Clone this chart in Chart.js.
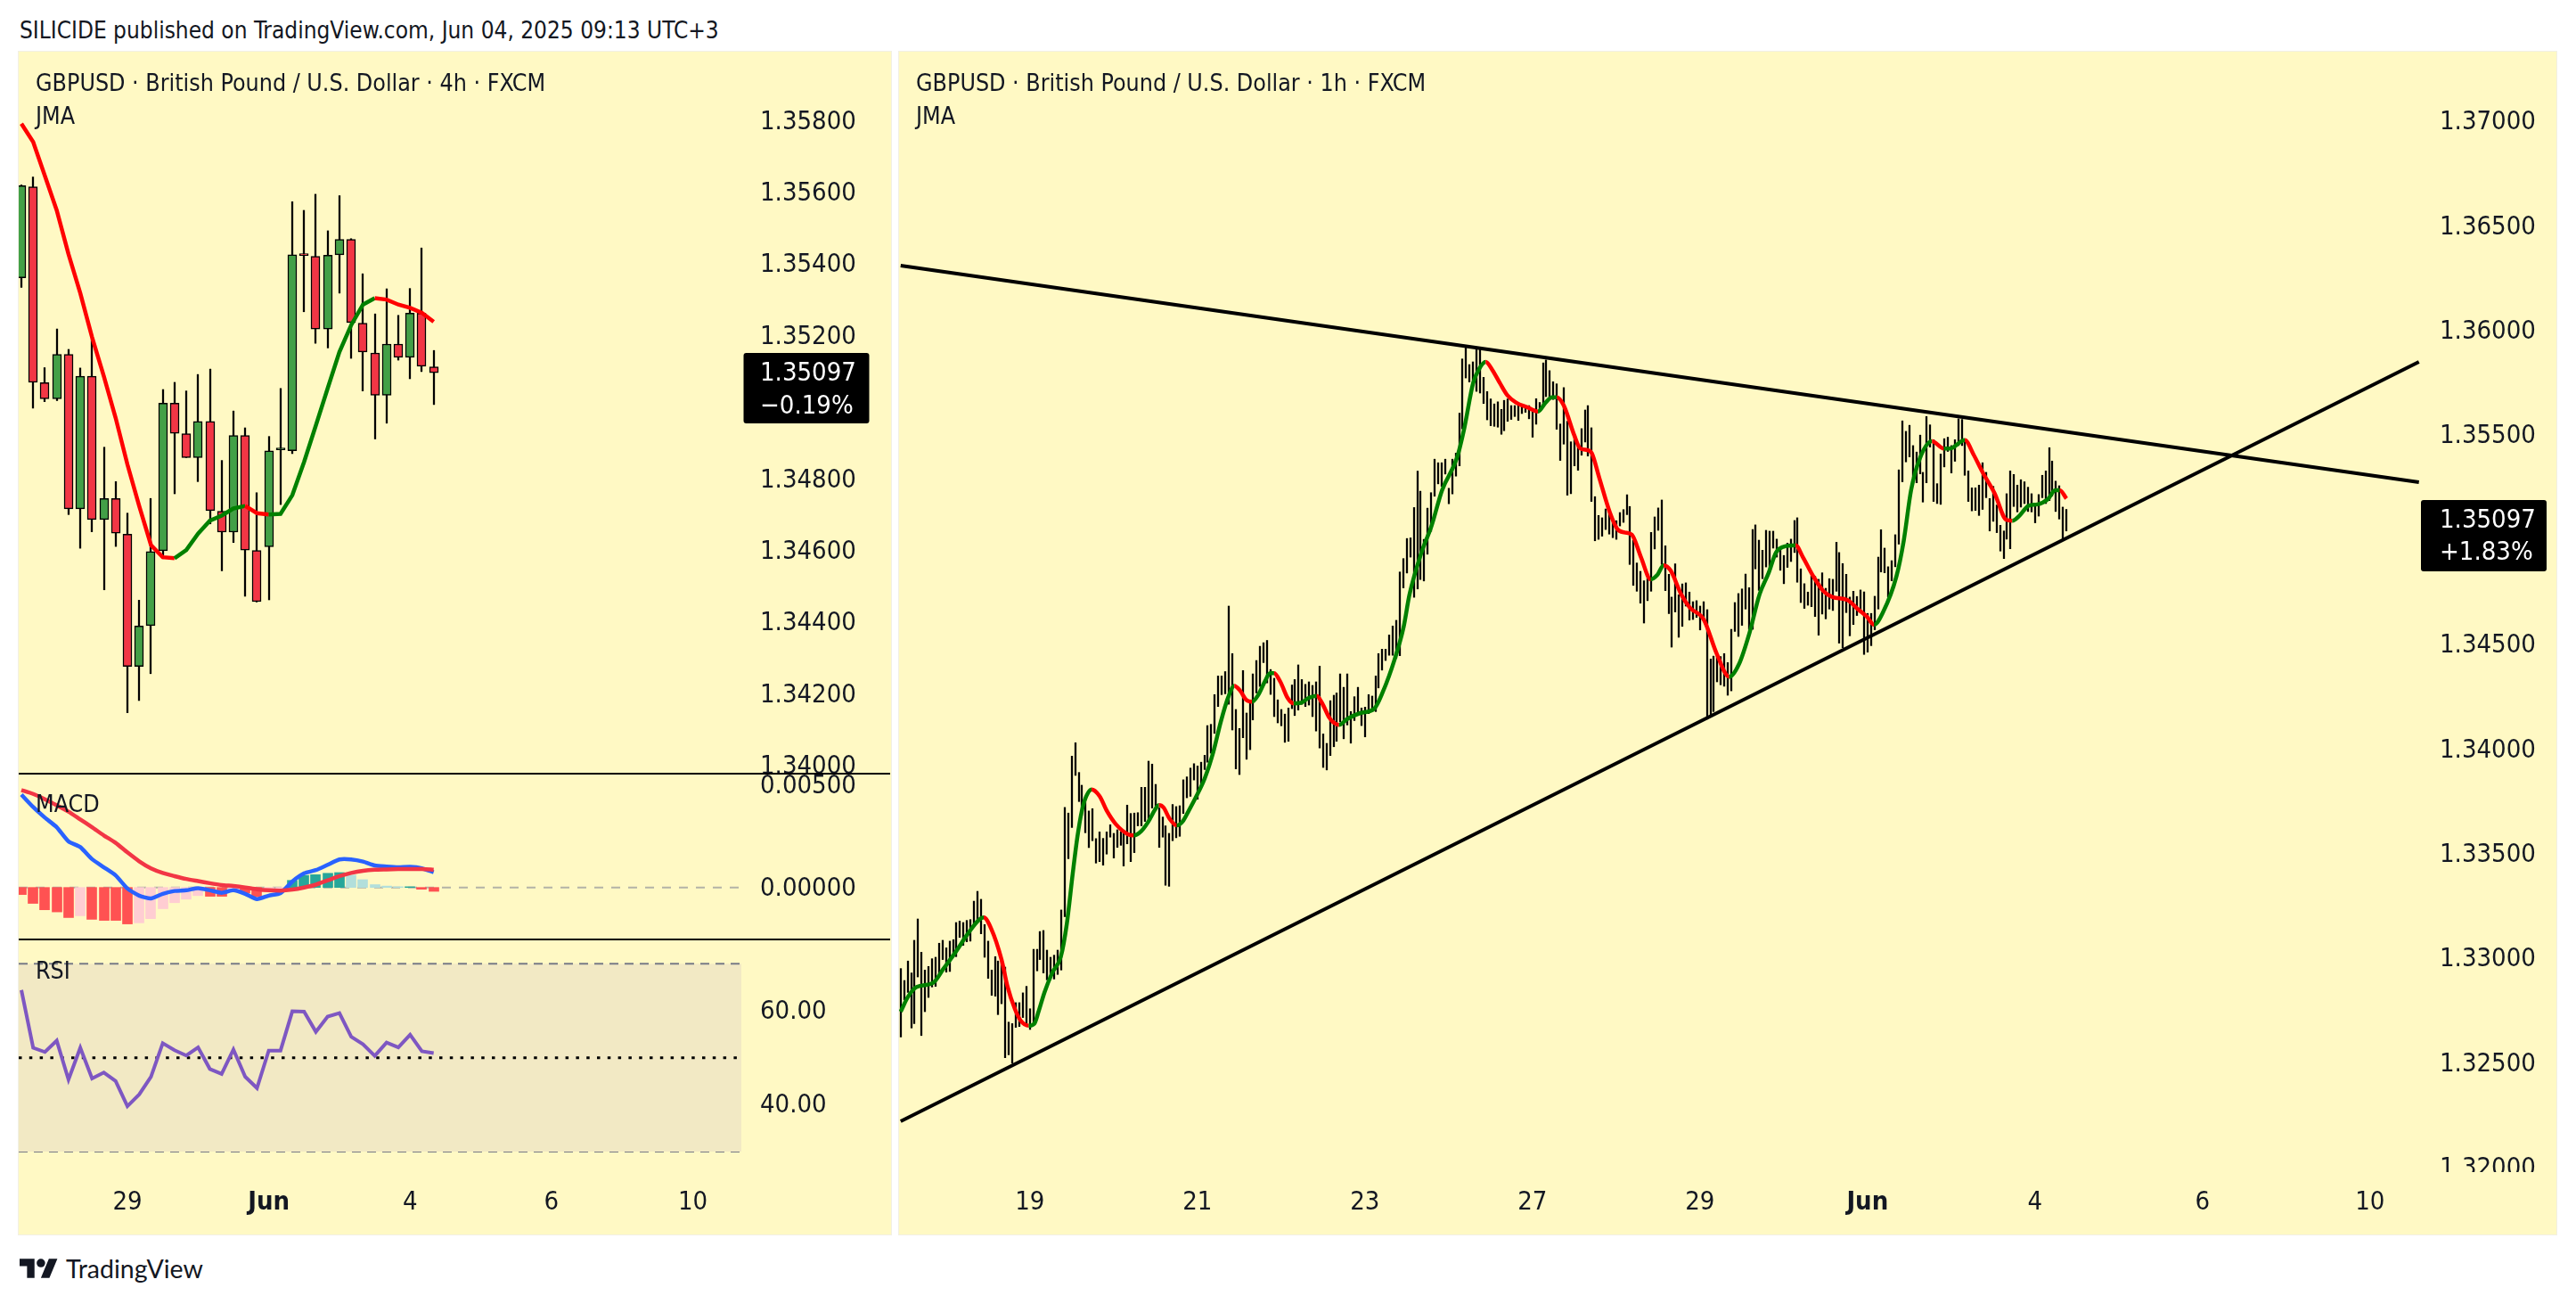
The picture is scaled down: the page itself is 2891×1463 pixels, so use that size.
<!DOCTYPE html>
<html><head><meta charset="utf-8">
<script src="https://cdn.jsdelivr.net/npm/chart.js@4"></script>
<style>
html,body{margin:0;padding:0;background:#fff;width:2891px;height:1463px;overflow:hidden;font-family:"DejaVu Sans Condensed","DejaVu Sans",sans-serif;color:#131722}
.panel{position:absolute;background:#fff9c4;box-shadow:0 0 0 1px #f2f0e4}
canvas{position:absolute}
.t{position:absolute;white-space:nowrap;font-size:26.6px;line-height:30px;color:#131722}
.sep{position:absolute;left:21px;width:978px;height:2px;background:#000}
</style></head><body>
<div class="panel" style="left:21px;top:58px;width:979px;height:1327px"></div>
<div class="panel" style="left:1009px;top:58px;width:1860px;height:1327px"></div>
<canvas id="c1" width="979" height="810" style="left:21px;top:58px"></canvas>
<canvas id="c2" width="979" height="186" style="left:21px;top:868px"></canvas>
<canvas id="c3" width="979" height="331" style="left:21px;top:1054px"></canvas>
<canvas id="c4" width="1860" height="1327" style="left:1009px;top:58px"></canvas>
<div style="position:absolute;left:2720px;top:1315px;width:148px;height:18px;background:#fff9c4"></div>
<div class="sep" style="top:867px"></div>
<div class="sep" style="top:1053px"></div>
<div class="t" style="left:22px;top:19px;font-size:26px">SILICIDE published on TradingView.com, Jun 04, 2025 09:13 UTC+3</div>
<div class="t" style="left:40px;top:78px">GBPUSD · British Pound / U.S. Dollar · 4h · FXCM</div>
<div class="t" style="left:40px;top:115px">JMA</div>
<div class="t" style="left:40px;top:887px">MACD</div>
<div class="t" style="left:40px;top:1074px">RSI</div>
<div class="t" style="left:1028px;top:78px">GBPUSD · British Pound / U.S. Dollar · 1h · FXCM</div>
<div class="t" style="left:1028px;top:115px">JMA</div>
<svg style="position:absolute;left:22px;top:1412px" width="43" height="22" viewBox="0 4 36 18"><path fill="#131722" d="M14 22H7V11H0V4h14v18zM28 22h-8l7.5-18h8L28 22z"/><circle fill="#131722" cx="20" cy="8" r="4"/></svg>
<div class="t" style="left:74px;top:1405px;font-family:Lato,'Noto Sans',sans-serif;font-size:28.5px;line-height:36px">TradingView</div>
<script>
// ---------- 4h pane values ----------
const open4h =[1.35362,1.35616,1.35069,1.35024,1.35148,1.34717,1.35087,1.34687,1.34746,1.34646,1.34277,1.34391,1.34600,1.35012,1.34927,1.34860,1.34961,1.34710,1.34652,1.34922,1.34601,1.34611,1.34882,1.34879,1.35429,1.35422,1.35219,1.35426,1.35469,1.35235,1.35152,1.35034,1.35177,1.35140,1.35263,1.35113];
const close4h=[1.35619,1.35070,1.35024,1.35148,1.34717,1.35087,1.34687,1.34746,1.34649,1.34277,1.34390,1.34598,1.35012,1.34928,1.34860,1.34961,1.34712,1.34652,1.34922,1.34602,1.34458,1.34879,1.34887,1.35426,1.35424,1.35219,1.35425,1.35469,1.35237,1.35155,1.35034,1.35177,1.35140,1.35263,1.35115,1.35097];
const high4h =[1.35621,1.35643,1.35111,1.35219,1.35162,1.35110,1.35192,1.34889,1.34793,1.34705,1.34462,1.34746,1.35050,1.35070,1.35046,1.35092,1.35107,1.34852,1.34990,1.34943,1.34762,1.34919,1.35053,1.35574,1.35550,1.35595,1.35493,1.35591,1.35471,1.35373,1.35261,1.35331,1.35257,1.35332,1.35445,1.35159];
const low4h  =[1.35335,1.34998,1.35016,1.35019,1.34701,1.34607,1.34653,1.34491,1.34612,1.34148,1.34182,1.34257,1.34578,1.34759,1.34860,1.34793,1.34675,1.34544,1.34623,1.34473,1.34457,1.34463,1.34729,1.34871,1.35267,1.35179,1.35166,1.35319,1.35137,1.35046,1.34912,1.34956,1.35132,1.35080,1.35100,1.35008];
const jma4h  =[1.35792,1.35741,1.35646,1.35550,1.35428,1.35319,1.35196,1.35087,1.34971,1.34841,1.34725,1.34616,1.34582,1.34579,1.34602,1.34648,1.34684,1.34698,1.34718,1.34725,1.34705,1.34701,1.34703,1.34755,1.34848,1.34950,1.35053,1.35155,1.35230,1.35287,1.35305,1.35301,1.35287,1.35278,1.35264,1.35239];
const macdLine=[.004534,.003928,.003409,.002942,.002250,.001973,.001384,.000986,.000588,-.000052,-.000398,-.000536,-.000311,-.000173,-.000138,-.000035,-.000138,-.000260,-.000138,-.000311,-.000571,-.000398,-.000277,.000294,.000692,.000848,.001107,.001367,.001367,.001263,.001073,.001021,.000986,.001004,.000934,.000744];
const macdSignal=[.004759,.004568,.004309,.004015,.003703,.003322,.002942,.002544,.002180,.001713,.001280,.000934,.000709,.000554,.000415,.000311,.000208,.000121,.000069,0,-.000087,-.000138,-.000156,-.000104,0,.000138,.000346,.000554,.000709,.000813,.000865,.000882,.000900,.000900,.000900,.000865];
const macdHist=[-.000346,-.000779,-.00109,-.001194,-.001471,-.001384,-.001557,-.001609,-.001609,-.001782,-.00173,-.001523,-.001038,-.000744,-.000571,-.000398,-.000433,-.000433,-.00019,-.000277,-.00045,-.000225,-.000138,.000346,.000588,.000623,.000692,.000727,.000606,.000381,.000138,.000069,.000035,.000035,-.000087,-.00019];
const rsi4h=[64.41,52.11,51.21,53.62,45.32,52.11,45.55,46.83,45.02,39.66,42.15,45.93,53.09,51.58,50.45,52.19,47.59,46.53,51.74,45.93,43.51,51.51,51.51,59.88,59.81,55.51,58.75,59.51,54.45,52.87,50.38,53.24,52.19,54.90,51.36,50.98];
const priceTicks4h=[1.358,1.356,1.354,1.352,1.350,1.348,1.346,1.344,1.342,1.340];
const macdTicks=[0.005,0];
const rsiTicks=[60,40];
const rsiBand=[70,30,50];
const timeTicks4h=[9,21,33,45,57];
const timeLabels4h=['29','Jun','4','6','10'];
const last4h=[1.35097,'1.35097','\u22120.19%'];

// ---------- 1h pane values ----------
const high1h=[1.32952,1.32895,1.32988,1.32931,1.33087,1.33189,1.33030,1.32945,1.32962,1.32999,
1.33006,1.33073,1.33087,1.33051,1.33083,1.33090,1.33172,1.33179,1.33172,1.33182,
1.33186,1.33274,1.33321,1.33283,1.33162,1.33083,1.32945,1.33009,1.32988,1.32992,
1.32959,1.32696,1.32689,1.32789,1.32789,1.32836,1.32867,1.32760,1.33044,1.33044,
1.33129,1.33134,1.33040,1.33006,1.33016,1.33040,1.33232,1.33722,1.33695,1.33967,
1.34031,1.33889,1.33828,1.33747,1.33705,1.33716,1.33573,1.33605,1.33574,1.33605,
1.33639,1.33598,1.33615,1.33605,1.33598,1.33733,1.33693,1.33695,1.33697,1.33818,
1.33818,1.33943,1.33929,1.33832,1.33719,1.33676,1.33634,1.33598,1.33736,1.33726,
1.33730,1.33854,1.33868,1.33910,1.33931,1.33920,1.33938,1.33971,1.34113,1.34119,
1.34261,1.34350,1.34350,1.34371,1.34684,1.34457,1.34190,1.34099,1.34376,1.34173,
1.34227,1.34360,1.34424,1.34492,1.34509,1.34520,1.34381,1.34339,1.34236,1.34190,
1.34168,1.34197,1.34307,1.34333,1.34403,1.34333,1.34310,1.34322,1.34305,1.34322,
1.34397,1.34073,1.34028,1.34232,1.34258,1.34269,1.34360,1.34296,1.34360,1.34180,
1.34251,1.34296,1.34197,1.34201,1.34261,1.34254,1.34350,1.34457,1.34478,1.34478,
1.34546,1.34589,1.34616,1.34847,1.34911,1.35007,1.35010,1.35155,1.35329,1.35233,
1.35003,1.35152,1.35226,1.35386,1.35369,1.35369,1.35386,1.35247,1.35386,1.35415,
1.35606,1.35865,1.35926,1.35838,1.35851,1.35922,1.35916,1.35777,1.35709,1.35674,
1.35650,1.35660,1.35624,1.35667,1.35674,1.35642,1.35642,1.35647,1.35642,1.35645,
1.35642,1.35614,1.35675,1.35657,1.35846,1.35860,1.35809,1.35756,1.35746,1.35554,
1.35728,1.35567,1.35469,1.35496,1.35448,1.35532,1.35621,1.35642,1.35536,1.35207,
1.35117,1.35106,1.35148,1.35145,1.35086,1.35092,1.35131,1.35145,1.35216,1.35160,
1.34999,1.34890,1.34850,1.34805,1.34840,1.35036,1.35110,1.35153,1.35191,1.34972,
1.34836,1.34727,1.34886,1.34738,1.34790,1.34795,1.34751,1.34705,1.34710,1.34684,
1.34705,1.34667,1.34431,1.34445,1.34457,1.34443,1.34457,1.34414,1.34573,1.34701,
1.34744,1.34766,1.34837,1.34772,1.35050,1.35072,1.34999,1.34951,1.35046,1.35042,
1.35042,1.35004,1.34961,1.34926,1.34985,1.35004,1.35093,1.35106,1.34862,1.34791,
1.34751,1.34829,1.34826,1.34812,1.34843,1.34769,1.34815,1.34812,1.34989,1.34940,
1.34887,1.34836,1.34727,1.34755,1.34730,1.34761,1.34752,1.34649,1.34649,1.34731,
1.34918,1.35049,1.34961,1.34872,1.34901,1.35025,1.35335,1.35569,1.35519,1.35548,
1.35451,1.35420,1.35501,1.35323,1.35590,1.35550,1.35479,1.35269,1.35411,1.35484,
1.35491,1.35451,1.35479,1.35579,1.35576,1.35479,1.35330,1.35249,1.35249,1.35262,
1.35369,1.35323,1.35198,1.35256,1.35167,1.35070,1.35043,1.35221,1.35330,1.35313,
1.35262,1.35288,1.35278,1.35252,1.35221,1.35174,1.35217,1.35309,1.35330,1.35441,
1.35377,1.35281,1.35259,1.35157,1.35146];
const low1h=[1.32625,1.32803,1.32838,1.32668,1.32689,1.32912,1.32632,1.32746,1.32814,1.32864,
1.32867,1.32916,1.32995,1.32935,1.32938,1.33016,1.33009,1.33101,1.33063,1.33080,
1.33083,1.33168,1.33186,1.33118,1.33006,1.32905,1.32824,1.32820,1.32732,1.32784,
1.32526,1.32540,1.32500,1.32671,1.32675,1.32718,1.32689,1.32661,1.32689,1.32941,
1.32995,1.32931,1.32898,1.32909,1.32902,1.32924,1.32945,1.33200,1.33477,1.33626,
1.33875,1.33750,1.33683,1.33601,1.33530,1.33563,1.33456,1.33463,1.33446,1.33499,
1.33580,1.33480,1.33531,1.33541,1.33442,1.33548,1.33463,1.33506,1.33634,1.33634,
1.33655,1.33662,1.33719,1.33719,1.33531,1.33580,1.33350,1.33345,1.33563,1.33577,
1.33584,1.33693,1.33768,1.33775,1.33853,1.33761,1.33818,1.33903,1.33938,1.33981,
1.34076,1.34204,1.34261,1.34265,1.34215,1.34092,1.33906,1.33879,1.34055,1.33952,
1.33998,1.34140,1.34269,1.34300,1.34414,1.34317,1.34262,1.34156,1.34126,1.34112,
1.34033,1.34038,1.34194,1.34161,1.34187,1.34215,1.34204,1.34211,1.34156,1.34087,
1.34006,1.33913,1.33901,1.33970,1.34012,1.34038,1.34130,1.34050,1.34116,1.34029,
1.34137,1.34165,1.34113,1.34059,1.34170,1.34180,1.34180,1.34293,1.34378,1.34424,
1.34449,1.34449,1.34435,1.34447,1.34771,1.34842,1.34918,1.34726,1.34766,1.34811,
1.34804,1.34932,1.35041,1.35209,1.35268,1.35256,1.35315,1.35173,1.35220,1.35305,
1.35354,1.35531,1.35774,1.35755,1.35741,1.35710,1.35702,1.35652,1.35574,1.35546,
1.35543,1.35539,1.35505,1.35522,1.35567,1.35576,1.35590,1.35571,1.35604,1.35610,
1.35579,1.35491,1.35553,1.35614,1.35642,1.35685,1.35671,1.35671,1.35529,1.35380,
1.35458,1.35214,1.35221,1.35354,1.35333,1.35405,1.35468,1.35401,1.35184,1.34996,
1.35003,1.35018,1.35050,1.35028,1.35011,1.35003,1.35067,1.35084,1.35121,1.34883,
1.34783,1.34755,1.34698,1.34603,1.34710,1.34755,1.34957,1.35046,1.34883,1.34758,
1.34648,1.34488,1.34656,1.34535,1.34587,1.34684,1.34617,1.34620,1.34630,1.34570,
1.34613,1.34144,1.34159,1.34180,1.34322,1.34308,1.34301,1.34258,1.34279,1.34563,
1.34539,1.34592,1.34670,1.34573,1.34573,1.34862,1.34759,1.34815,1.34871,1.34862,
1.34961,1.34918,1.34855,1.34791,1.34869,1.34897,1.34940,1.34798,1.34701,1.34673,
1.34688,1.34681,1.34634,1.34545,1.34646,1.34623,1.34670,1.34663,1.34755,1.34507,
1.34485,1.34653,1.34542,1.34596,1.34639,1.34653,1.34453,1.34464,1.34495,1.34571,
1.34670,1.34847,1.34843,1.34727,1.34805,1.34872,1.34980,1.35278,1.35373,1.35397,
1.35298,1.35273,1.35316,1.35181,1.35273,1.35444,1.35184,1.35174,1.35170,1.35349,
1.35423,1.35320,1.35376,1.35451,1.35451,1.35309,1.35184,1.35139,1.35141,1.35117,
1.35146,1.35202,1.35043,1.35089,1.35035,1.34947,1.34911,1.35004,1.34958,1.35160,
1.35134,1.35157,1.35174,1.35136,1.35134,1.35082,1.35114,1.35202,1.35174,1.35188,
1.35210,1.35136,1.35100,1.35008,1.35043];
const jmaBar1h=[0,2.1,4.6,9.3,12.3,15.7,19.1,22.5,23.8,25.9,28.9,30.6,32.7,34.4,36.7,38.3,39.5,41.2,43.4,45.9,47.6,49.3,50.6,51.9,53.2,54.7,57,59.1,61.7,65.1,66.8,68.9,71,72.9,74,75.3,77,79.1,80.8,82.5,84.5,87.1,89.6,91.7,93.9,95.6,97.3,99,100.7,102.4,104.5,105.8,107,108.8,110.9,112.6,114.7,116.8,119.2,120.7,122.8,124.1,125.6,127.9,131.7,135.7,138.1,141.5,144.1,145.8,149.2,152.1,155.1,159.4,161.5,164,165.8,167.6,169.5,171.7,173.8,176.3,179.7,182.6,184.8,186.6,188,190,193,194.6,196.8,198,200.2,203.2,205.3,207.4,209.5,212.1,214.9,216.8,218.6,220.6,223.6,226.1,230.1,233.8,237.4,240.2,243.2,246.1,248.7,250.8,253,256.4,258.5,261.5,264.4,267,271.3,274.2,276.8,278.9,281.5,285.3,287.4,289.5,292.1,295.5,298.9,300.6,304.9,307.4,310,313.4,316.8,318.5,320.6,323.2,325.7,328.7,330.8,332.1,334];
const jmaVal1h=[1.32746,1.32817,1.32864,1.32884,1.32952,1.33030,1.33115,1.33186,1.33196,1.33144,1.32995,1.32867,1.32760,1.32703,1.32679,1.32689,1.32746,1.32838,1.32931,1.33009,1.33165,1.33406,1.33577,1.33705,1.33776,1.33808,1.33776,1.33705,1.33641,1.33594,1.33588,1.33608,1.33655,1.33712,1.33733,1.33722,1.33669,1.33636,1.33655,1.33705,1.33768,1.33860,1.33988,1.34130,1.34251,1.34303,1.34279,1.34236,1.34227,1.34258,1.34329,1.34364,1.34364,1.34322,1.34244,1.34219,1.34222,1.34244,1.34255,1.34222,1.34151,1.34127,1.34116,1.34144,1.34173,1.34194,1.34272,1.34428,1.34584,1.34740,1.34939,1.35067,1.35237,1.35393,1.35535,1.35748,1.35819,1.35851,1.35813,1.35749,1.35692,1.35657,1.35633,1.35614,1.35657,1.35682,1.35682,1.35642,1.35500,1.35439,1.35429,1.35415,1.35295,1.35131,1.35053,1.35036,1.35025,1.34918,1.34812,1.34833,1.34879,1.34854,1.34741,1.34677,1.34620,1.34457,1.34346,1.34407,1.34556,1.34741,1.34843,1.34940,1.34968,1.34975,1.34918,1.34826,1.34755,1.34727,1.34713,1.34670,1.34634,1.34595,1.34656,1.34826,1.34997,1.35238,1.35394,1.35472,1.35437,1.35437,1.35477,1.35408,1.35323,1.35224,1.35096,1.35092,1.35117,1.35164,1.35170,1.35195,1.35238,1.35238,1.35198];
const trendBars=[0,435];
const trendUpper=[1.36311,1.35276];
const trendLower=[1.32222,1.35851];
const priceTicks1h=[1.37,1.365,1.36,1.355,1.35,1.345,1.34,1.335,1.33,1.325,1.32];
const timeTicks1h=[37,85,133,181,229,277,325,373,421];
const timeLabels1h=['19','21','23','27','29','Jun','4','6','10'];
const last1h=[1.35097,'1.35097','+1.83%'];

// ---------- drawing ----------
const FONT='"DejaVu Sans Condensed","DejaVu Sans",sans-serif', INK='#131722';
const RED='#f23645', GRN='#43a047';
const zip=(xs,ys)=>xs.map((x,i)=>({x,y:ys[i]}));
const idx=open4h.map((_,i)=>i);
const xMin4=-0.227,xMax4=61.12,xMin1=-0.46,xMax1=435.33;
const turnColor=ctx=>ctx.p1.parsed.y>=ctx.p0.parsed.y?'#008000':'#ff0000';

function badge(spec,rel){return {id:'badge',afterDraw(c){
  const g=c.ctx,y=c.scales.y.getPixelForValue(spec[0]);
  g.save();g.fillStyle='#000';g.beginPath();g.roundRect(rel.l,y+rel.t,rel.w,rel.h,3);g.fill();
  g.fillStyle='#fff';g.font='29px '+FONT;g.textBaseline='middle';g.textAlign='left';
  g.fillText(spec[1],rel.tx,y+1.5);g.fillText(spec[2],rel.tx,y+1.5+rel.dy);g.restore();}};}
// bars sit on whole pixels, as the reference's do
const snapBars={id:'snapBars',beforeDatasetsUpdate(c){const s=c.scales.xb;
  if(s&&!s.__snap){const f=s.getPixelForValue.bind(s);s.getPixelForValue=(v,i)=>Math.round(f(v,i));s.__snap=true;}}};

function yAxis(min,max,ticks,width,fmt,pad){return {
  type:'linear',position:'right',min,max,
  grid:{display:false},border:{display:false},
  afterBuildTicks:s=>{s.ticks=ticks.map(value=>({value}));},
  afterFit:s=>{s.width=width;s.paddingTop=0;s.paddingBottom=0;},
  ticks:{autoSkip:false,padding:pad,labelOffset:1.5,color:INK,font:{family:FONT,size:29},callback:v=>v.toFixed(fmt)}};}
function xAxis(min,max,ticks,labels,height,pad){
  if(!ticks) return {type:'linear',display:false,min,max,offset:false,grid:{display:false}};
  return {type:'linear',position:'bottom',min,max,offset:false,grid:{display:false},border:{display:false},
  afterBuildTicks:s=>{s.ticks=ticks.map(value=>({value}));},
  afterFit:s=>{s.height=height;s.paddingLeft=0;s.paddingRight=0;},
  ticks:{autoSkip:false,maxRotation:0,padding:pad,color:INK,
    font:c=>({family:FONT,size:29,weight:labels[ticks.indexOf(c.tick&&c.tick.value)]==='Jun'?'bold':'normal'}),
    callback:v=>labels[ticks.indexOf(v)]}};}
const base={responsive:false,animation:false,events:[],layout:{padding:0},plugins:{legend:{display:false},tooltip:{enabled:false},title:{display:false}}};
const barOpt=t=>({grouped:false,barPercentage:1,categoryPercentage:1,maxBarThickness:t,xAxisID:'xb'});

new Chart(document.getElementById('c1'),{type:'bar',data:{datasets:[
 {type:'line',data:zip(idx,jma4h),borderWidth:4.5,pointRadius:0,tension:0,segment:{borderColor:turnColor},order:1},
 {...barOpt(10),data:idx.map(i=>({x:i,y:[open4h[i],close4h[i]]})),
  backgroundColor:idx.map(i=>close4h[i]>=open4h[i]?GRN:RED),borderColor:'#000',borderWidth:1.5,borderSkipped:false,order:2},
 {...barOpt(1.6),data:idx.map(i=>({x:i,y:[low4h[i],high4h[i]]})),backgroundColor:'#000',order:3}
]},plugins:[snapBars,badge(last4h,{l:813.5,t:-22,w:141,h:79,tx:832,dy:37})],options:{...base,scales:{
 x:xAxis(xMin4,xMax4),xb:xAxis(xMin4,xMax4),
 y:yAxis(1.339779,1.359928,priceTicks4h,168,5,13)}}});

const histColor=macdHist.map((v,i)=>{const up=i>0&&v>macdHist[i-1],same=i>0&&v===macdHist[i-1];
  return v>=0?((up||same)?'#26a69a':'#b2dfdb'):(up?'#ffcdd2':'#ff5252');});
new Chart(document.getElementById('c2'),{type:'bar',data:{datasets:[
 {type:'line',data:zip(idx,macdSignal),borderColor:'#f23645',borderWidth:4.5,pointRadius:0,tension:0.2,order:1},
 {type:'line',data:zip(idx,macdLine),borderColor:'#2962ff',borderWidth:4.5,pointRadius:0,tension:0.2,order:2},
 {...barOpt(11),data:zip(idx,macdHist),backgroundColor:histColor,order:3},
 {type:'line',data:zip([xMin4,xMax4],[0,0]),borderColor:'#b3b3a6',borderWidth:2,borderDash:[10,9],pointRadius:0,order:4}
]},plugins:[snapBars],options:{...base,scales:{x:xAxis(xMin4,xMax4),xb:xAxis(xMin4,xMax4),y:yAxis(-0.00254,0.00556,macdTicks,168,5,13)}}});

new Chart(document.getElementById('c3'),{type:'bar',data:{datasets:[
 {type:'line',data:zip(idx,rsi4h),borderColor:'#7e57c2',borderWidth:4,pointRadius:0,tension:0,order:1},
 {type:'line',data:zip([xMin4,xMax4],[rsiBand[2],rsiBand[2]]),borderColor:'#000',borderWidth:3,borderDash:[3.5,8.3],pointRadius:0,order:2},
 {type:'line',data:zip([xMin4,xMax4],[rsiBand[0],rsiBand[0]]),borderColor:'#787b86',borderWidth:2,borderDash:[10,7],pointRadius:0,order:3,fill:'+1',backgroundColor:'#f2e9c4'},
 {type:'line',data:zip([xMin4,xMax4],[rsiBand[1],rsiBand[1]]),borderColor:'#787b86',borderWidth:2,borderDash:[10,7],pointRadius:0,order:4}
]},options:{...base,scales:{
 x:xAxis(xMin4,xMax4,timeTicks4h,timeLabels4h,65,4),
 y:yAxis(24.67,75.19,rsiTicks,168,2,13)}}});

const idx1=high1h.map((_,i)=>i);
new Chart(document.getElementById('c4'),{type:'bar',data:{datasets:[
 {type:'line',data:zip(trendBars,trendUpper),borderColor:'#000',borderWidth:4,pointRadius:0,order:0},
 {type:'line',data:zip(trendBars,trendLower),borderColor:'#000',borderWidth:4,pointRadius:0,order:0},
 {type:'line',data:zip(jmaBar1h,jmaVal1h),borderWidth:4.5,pointRadius:0,cubicInterpolationMode:'monotone',segment:{borderColor:turnColor},order:1},
 {...barOpt(1.6),data:idx1.map(i=>({x:i,y:[low1h[i],high1h[i]]})),backgroundColor:'#000',order:3}
]},plugins:[snapBars,badge(last1h,{l:1708,t:-22,w:141,h:80,tx:1729,dy:36})],options:{...base,scales:{
 x:xAxis(xMin1,xMax1,timeTicks1h,timeLabels1h,65,4),xb:xAxis(xMin1,xMax1),
 y:yAxis(1.319582,1.373331,priceTicks1h,153,5,14)}}});
</script>
</body></html>
